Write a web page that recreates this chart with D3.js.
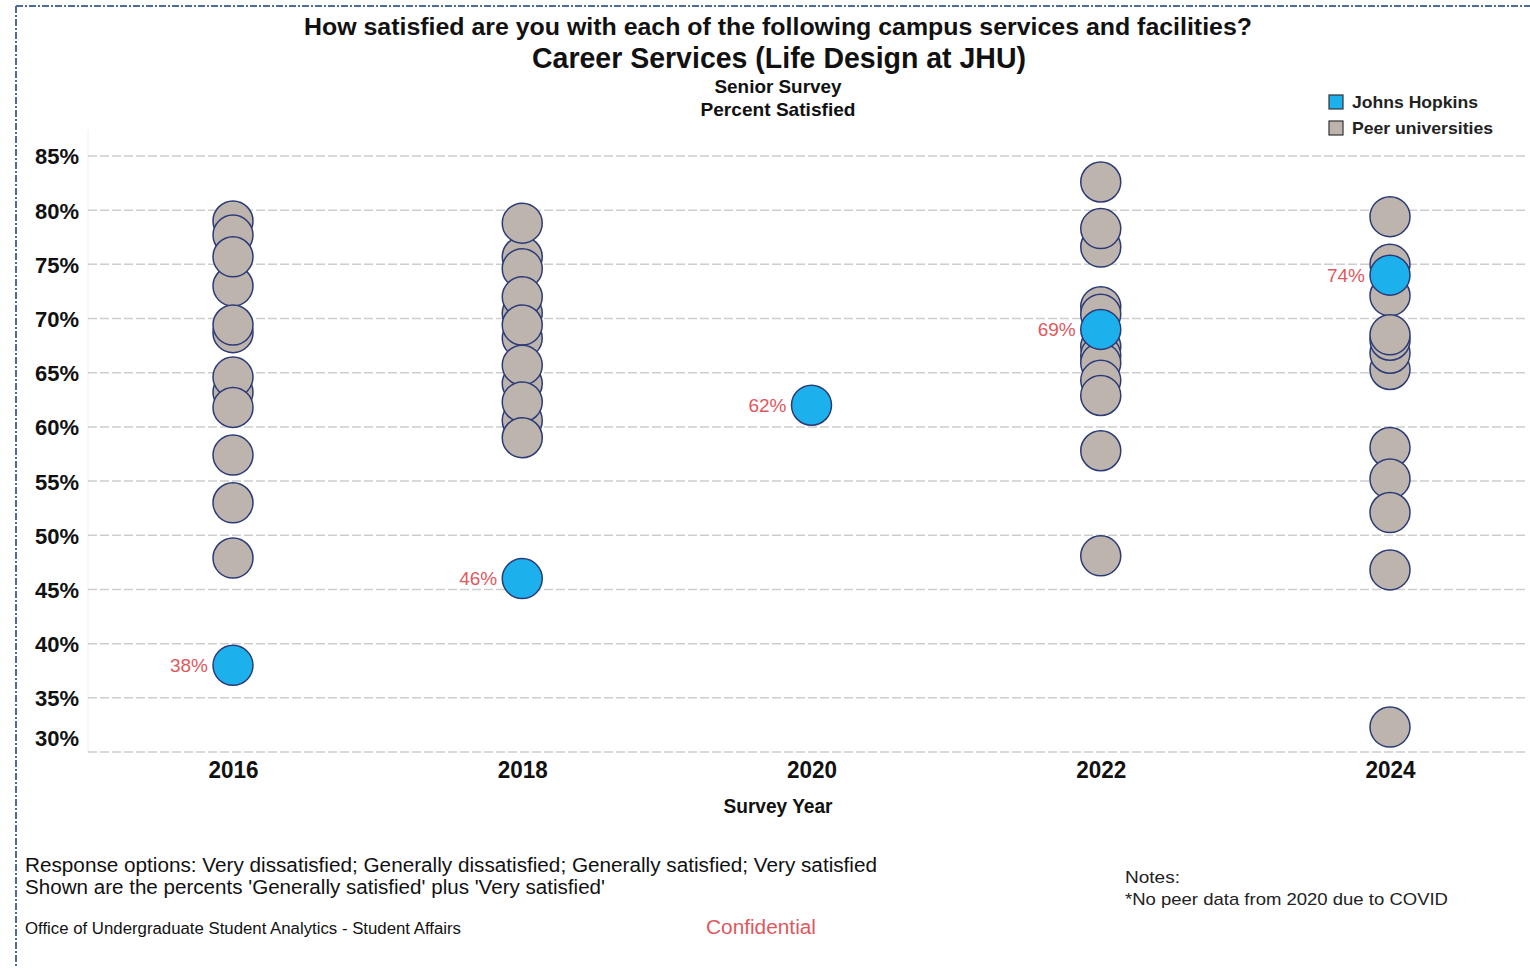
<!DOCTYPE html>
<html>
<head>
<meta charset="utf-8">
<script src="https://cdn.jsdelivr.net/npm/d3@7"></script>
<style>
  html, body { margin: 0; padding: 0; background: #fff; }
  svg { display: block; }
</style>
</head>
<body>
<svg id="chart" width="1530" height="968"></svg>
<script>
// Survey years shown on the x axis
const years = [2016, 2018, 2020, 2022, 2024];

// Johns Hopkins percent satisfied, one per survey year
const jhuValues = [38, 46, 62, 69, 74];

// Peer university percent satisfied, per survey year (none collected in 2020)
const peer2016 = [79.0, 77.7, 73.0, 75.7, 68.7, 69.4, 63.2, 64.6, 61.8, 57.4, 53.0, 47.9];
const peer2018 = [75.7, 70.5, 68.2, 64.0, 60.6, 78.8, 74.6, 72.0, 69.4, 65.7, 62.3, 59.0];
const peer2020 = [];
const peer2022 = [82.6, 76.6, 78.3, 67.4, 66.6, 65.9, 64.3, 71.1, 70.4, 62.9, 57.8, 48.1];
const peer2024 = [79.4, 75.0, 72.1, 65.3, 66.8, 68.0, 68.5, 58.1, 55.2, 52.1, 46.8, 32.3];

// Y axis ticks (percent)
const yTicks = [30, 35, 40, 45, 50, 55, 60, 65, 70, 75, 80, 85];

const legendLabels = ["Johns Hopkins", "Peer universities"];

const COLORS = {
  jhu: "#1cb0ec",
  peer: "#bdb4ad",
  stroke: "#2c3b78",
  label: "#e0585e",
  grid: "#cdcdcd",
  text: "#111"
};

const SANS = "'Liberation Sans', Arial, sans-serif";
const NARROW = "'Liberation Sans Narrow', 'Liberation Sans', Arial, sans-serif";

const svg = d3.select("#chart");

// Plot area
const plot = { left: 88, right: 1528, top: 130, bottom: 752 };

const x = d3.scalePoint().domain(years).range([233, 1390]);
const y = d3.scaleLinear().domain([30, 85]).range([752, 156]);

// Frame around the figure (dash-dot border)
const border = svg.append("g")
  .attr("stroke", "#4d6c96")
  .attr("stroke-width", 2)
  .attr("stroke-dasharray", "7,2,2,2")
  .attr("fill", "none");
border.append("line").attr("x1", 16).attr("y1", 6).attr("x2", 1530).attr("y2", 6);
border.append("line").attr("x1", 16).attr("y1", 6).attr("x2", 16).attr("y2", 968);

// Light pane edge on the left of the plot
svg.append("line")
  .attr("x1", plot.left).attr("x2", plot.left)
  .attr("y1", plot.top).attr("y2", plot.bottom)
  .attr("stroke", "#f0f0f0").attr("stroke-width", 1);

// Horizontal gridlines
svg.append("g")
  .selectAll("line")
  .data(yTicks)
  .join("line")
  .attr("x1", plot.left).attr("x2", plot.right)
  .attr("y1", d => y(d)).attr("y2", d => y(d))
  .attr("stroke", COLORS.grid)
  .attr("stroke-width", 1.5)
  .attr("stroke-dasharray", "9,3");

// Y axis labels (the lowest label sits inside the pane)
const yAxis = d3.axisLeft(y).tickValues(yTicks).tickSize(0).tickPadding(0)
  .tickFormat(d => d + "%");
const yG = svg.append("g")
  .attr("transform", `translate(79,0)`)
  .call(yAxis);
yG.select(".domain").remove();
yG.selectAll("text")
  .attr("font-family", SANS)
  .attr("font-weight", "bold")
  .attr("font-size", 22)
  .attr("fill", COLORS.text)
  .attr("dy", "0.36em")
  .attr("y", d => d === 30 ? -14 : 0);

// X axis labels
const xAxis = d3.axisBottom(x).tickSize(0).tickPadding(0).tickFormat(d3.format("d"));
const xG = svg.append("g")
  .attr("transform", `translate(0,${plot.bottom})`)
  .call(xAxis);
xG.select(".domain").remove();
xG.selectAll("text")
  .attr("font-family", NARROW)
  .attr("font-weight", "bold")
  .attr("font-size", 24)
  .attr("fill", COLORS.text)
  .attr("dy", 0)
  .attr("y", 26)
  .attr("textLength", 50)
  .attr("lengthAdjust", "spacingAndGlyphs");

// Peer circles
const peerByYear = [peer2016, peer2018, peer2020, peer2022, peer2024];
const peerPoints = years.flatMap((yr, i) => peerByYear[i].map(v => ({ year: yr, value: v })));
const R = 20;

svg.append("g")
  .selectAll("circle")
  .data(peerPoints)
  .join("circle")
  .attr("cx", d => x(d.year))
  .attr("cy", d => y(d.value))
  .attr("r", R)
  .attr("fill", COLORS.peer)
  .attr("stroke", COLORS.stroke)
  .attr("stroke-width", 1.5);

// Johns Hopkins circles with labels
const jhuPoints = years.map((yr, i) => ({ year: yr, value: jhuValues[i] }));
const jhuG = svg.append("g");
jhuG.selectAll("circle")
  .data(jhuPoints)
  .join("circle")
  .attr("cx", d => x(d.year))
  .attr("cy", d => y(d.value))
  .attr("r", R)
  .attr("fill", COLORS.jhu)
  .attr("stroke", COLORS.stroke)
  .attr("stroke-width", 1.5);

jhuG.selectAll("text")
  .data(jhuPoints)
  .join("text")
  .attr("x", d => x(d.year) - R - 5)
  .attr("y", d => y(d.value))
  .attr("dy", "0.36em")
  .attr("text-anchor", "end")
  .attr("font-family", NARROW)
  .attr("font-size", 19)
  .attr("fill", COLORS.label)
  .attr("textLength", 38)
  .attr("lengthAdjust", "spacingAndGlyphs")
  .text(d => d.value + "%");

// Titles
function addText(txt, cx, cy, opts) {
  const t = svg.append("text")
    .attr("x", cx).attr("y", cy)
    .attr("text-anchor", opts.anchor || "middle")
    .attr("font-family", opts.family || SANS)
    .attr("font-size", opts.size)
    .attr("font-weight", opts.weight || "normal")
    .attr("fill", opts.fill || COLORS.text)
    .text(txt);
  if (opts.len) t.attr("textLength", opts.len).attr("lengthAdjust", "spacingAndGlyphs");
  return t;
}

addText("How satisfied are you with each of the following campus services and facilities?", 778, 35,
  { size: 23, weight: "bold", len: 948 });
addText("Career Services (Life Design at JHU)", 779, 68,
  { size: 29, weight: "bold", family: NARROW, len: 494 });
addText("Senior Survey", 778, 93, { size: 19, weight: "bold", family: NARROW, len: 127 });
addText("Percent Satisfied", 778, 116, { size: 19, weight: "bold", family: NARROW, len: 155 });

// X axis title
addText("Survey Year", 778, 813, { size: 20, weight: "bold", family: NARROW, len: 109 });

// Legend
const legendColors = [COLORS.jhu, COLORS.peer];
const legend = svg.append("g").attr("transform", "translate(1329,95)");
const li = legend.selectAll("g").data(legendLabels).join("g")
  .attr("transform", (d, i) => `translate(0,${i * 26})`);
li.append("rect")
  .attr("width", 14).attr("height", 14)
  .attr("fill", (d, i) => legendColors[i])
  .attr("stroke", "#333").attr("stroke-width", 1.2);
li.append("text")
  .attr("x", 23).attr("y", 7).attr("dy", "0.36em")
  .attr("font-family", SANS).attr("font-weight", "bold").attr("font-size", 17)
  .attr("fill", "#222")
  .attr("textLength", (d, i) => i === 0 ? 126 : 141)
  .attr("lengthAdjust", "spacingAndGlyphs")
  .text(d => d);

// Footer notes
addText("Response options: Very dissatisfied; Generally dissatisfied; Generally satisfied; Very satisfied", 25, 872,
  { anchor: "start", size: 20, family: NARROW, len: 852 });
addText("Shown are the percents 'Generally satisfied' plus 'Very satisfied'", 25, 894,
  { anchor: "start", size: 20, family: NARROW, len: 580 });
addText("Office of Undergraduate Student Analytics - Student Affairs", 25, 934,
  { anchor: "start", size: 16, family: NARROW, len: 436 });
addText("Confidential", 706, 934,
  { anchor: "start", size: 20, family: NARROW, fill: COLORS.label, len: 110 });
addText("Notes:", 1125, 883, { anchor: "start", size: 17, fill: "#222", len: 55 });
addText("*No peer data from 2020 due to COVID", 1125, 905, { anchor: "start", size: 17, fill: "#222", len: 323 });
</script>
</body>
</html>
